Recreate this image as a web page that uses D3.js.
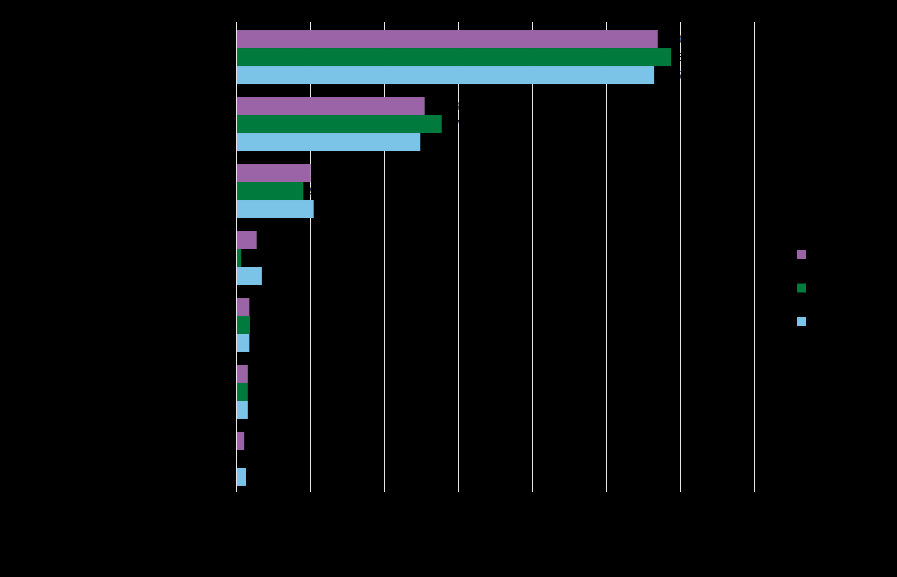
<!DOCTYPE html>
<html>
<head>
<meta charset="utf-8">
<script src="https://cdn.jsdelivr.net/npm/d3@7"></script>
<style>
  html, body { margin: 0; padding: 0; background: #000; }
  svg { display: block; }
  text { font-family: "Liberation Sans", Arial, sans-serif; }
</style>
</head>
<body>
<svg id="chart" width="897" height="577"></svg>
<script>
// ---- data ----
const categories = ["Category 1", "Category 2", "Category 3", "Category 4", "Category 5", "Category 6", "Category 7"];
const seriesNames = ["Series A", "Series B", "Series C"];
const seriesA = [0.570, 0.255, 0.101, 0.028, 0.018, 0.016, 0.011];
const seriesB = [0.588, 0.278, 0.091, 0.007, 0.019, 0.016, 0.000];
const seriesC = [0.565, 0.249, 0.105, 0.035, 0.018, 0.016, 0.0135];
const tickValues = [0, 0.1, 0.2, 0.3, 0.4, 0.5, 0.6, 0.7];
const colors = ["#9b64a7", "#007a3d", "#7cc3e8"];

const series = [seriesA, seriesB, seriesC];

const svg = d3.select("#chart");
const margin = { left: 236, top: 22, right: 143, bottom: 85 };
const W = 897, H = 577;
const innerH = H - margin.top - margin.bottom; // 470

const g = svg.append("g").attr("transform", `translate(${margin.left},${margin.top})`);

const x = d3.scaleLinear().domain([0, 0.7]).range([0, 518]);
const y = d3.scaleBand().domain(categories).range([0, 472]).paddingInner(0.194).paddingOuter(0.12);
const ySub = d3.scaleBand().domain(d3.range(series.length)).range([0, y.bandwidth()]);

// gridlines
g.append("g").selectAll("line").data(tickValues).join("line")
  .attr("x1", d => Math.round(x(d)) + 0.5).attr("x2", d => Math.round(x(d)) + 0.5)
  .attr("y1", 0).attr("y2", innerH)
  .attr("stroke", "#e6e6e6").attr("stroke-width", 1);

// x axis labels (black on black, as in reference)
const xAxis = d3.axisBottom(x).tickValues(tickValues).tickFormat(d3.format(".0%")).tickSize(0).tickPadding(8);
const xa = g.append("g").attr("transform", `translate(0,${innerH})`).call(xAxis);
xa.select(".domain").remove();
xa.selectAll("text").attr("fill", "#000").attr("font-size", 12);

// y axis labels
const yAxis = d3.axisLeft(y).tickSize(0).tickPadding(8);
const ya = g.append("g").call(yAxis);
ya.select(".domain").remove();
ya.selectAll("text").attr("fill", "#000").attr("font-size", 12);

// bars
series.forEach((vals, si) => {
  const grp = g.append("g");
  grp.selectAll("rect").data(vals).join("rect")
    .attr("x", 1)
    .attr("y", (d, i) => y(categories[i]) + ySub(si))
    .attr("width", d => Math.max(0, x(d) - 1))
    .attr("height", ySub.bandwidth())
    .attr("fill", colors[si]);
  grp.selectAll("text").data(vals).join("text")
    .attr("x", d => x(d) + 6)
    .attr("y", (d, i) => y(categories[i]) + ySub(si) + ySub.bandwidth() / 2)
    .attr("dy", "0.35em")
    .attr("fill", "#000")
    .attr("font-size", 11)
    .text(d => d3.format(".1%")(d));
});

// legend
const legend = svg.append("g").attr("transform", "translate(797,250)");
seriesNames.forEach((name, i) => {
  const row = legend.append("g").attr("transform", `translate(0,${i * 33.5})`);
  row.append("rect").attr("width", 9).attr("height", 9).attr("fill", colors[i]);
  row.append("text").attr("x", 15).attr("y", 4.5).attr("dy", "0.35em")
    .attr("fill", "#000").attr("font-size", 12).text(name);
});
</script>
</body>
</html>
